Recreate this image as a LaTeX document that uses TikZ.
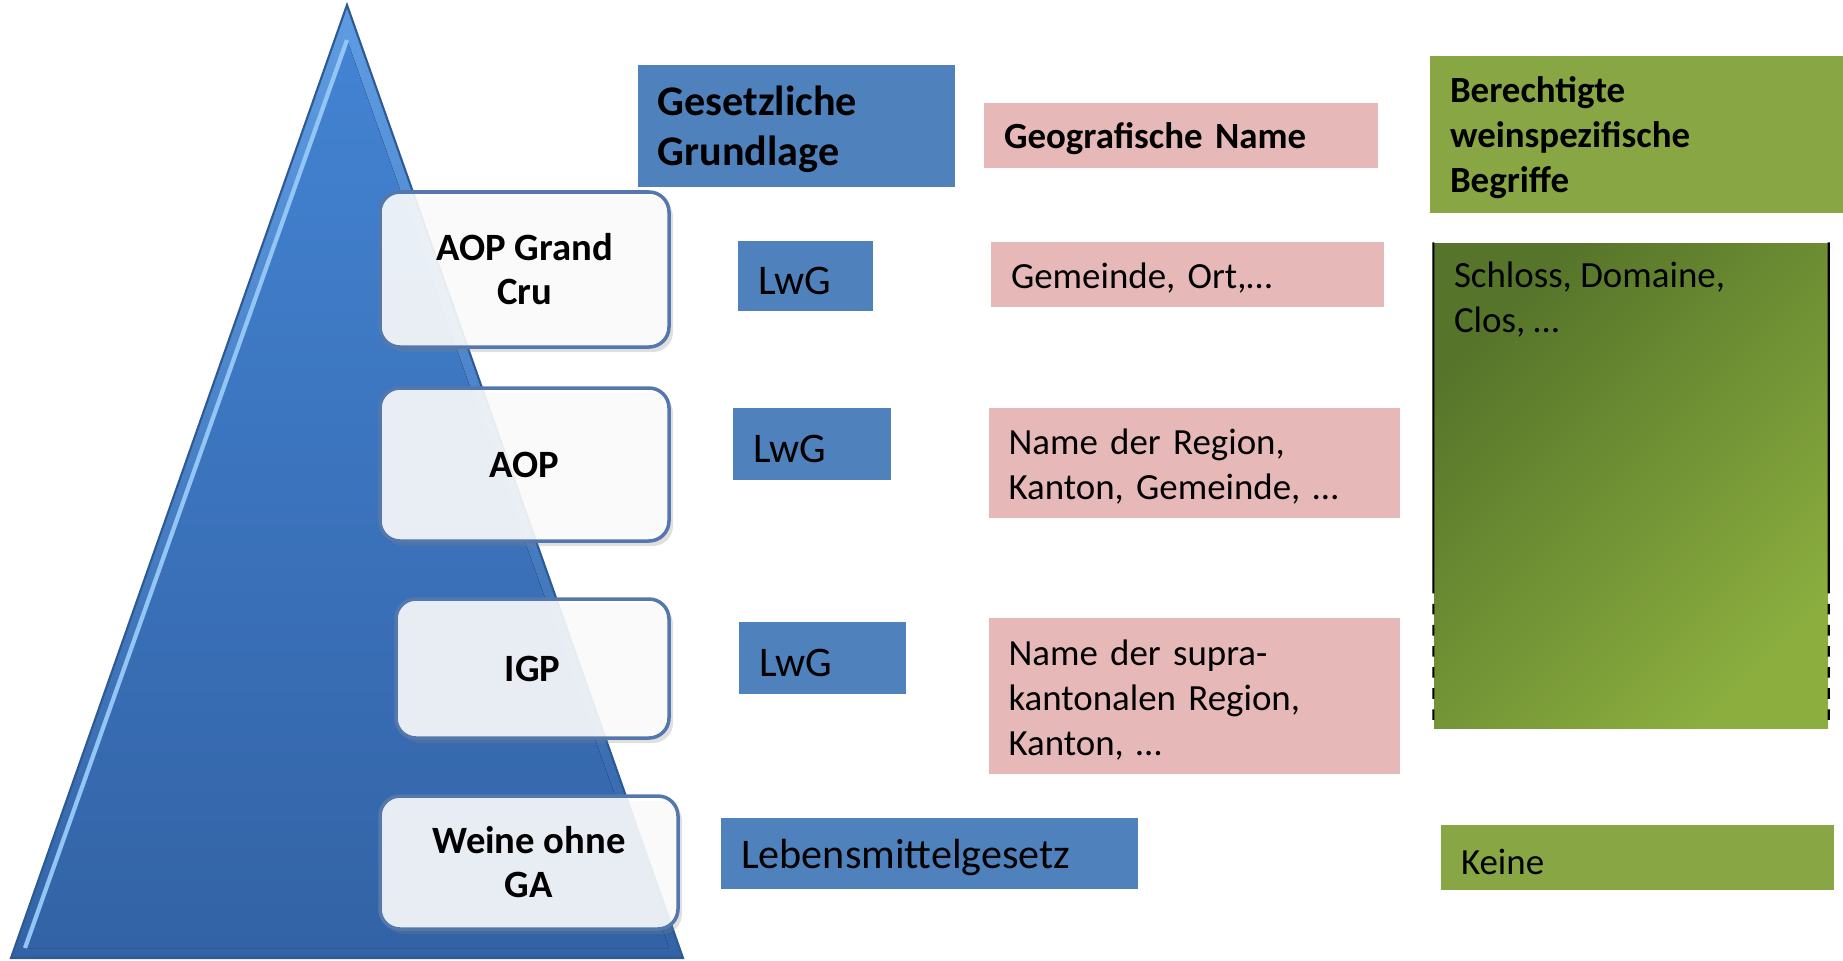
\documentclass[tikz,border=0pt]{standalone}
\usepackage{fontspec}
\setmainfont{Carlito}
\usepackage{tikz}
\usetikzlibrary{shadows,calc}
\usepackage{xcolor}

\definecolor{lawblue}{HTML}{4F81BD}
\definecolor{geopink}{HTML}{E6B9B8}
\definecolor{winegreen}{HTML}{88A644}
\definecolor{winedark}{HTML}{56742A}
\definecolor{winelight}{HTML}{8BAE3F}
\definecolor{pyrtop}{HTML}{4383D2}
\definecolor{pyrbot}{HTML}{3363A6}
\definecolor{pyrbevel}{HTML}{5E9CE2}
\definecolor{pyredge}{HTML}{2D5A94}
\definecolor{pyrlight}{HTML}{93C6F4}
\definecolor{levelborder}{HTML}{5478AE}

\begin{document}
\begin{tikzpicture}[
    level/.style={draw=levelborder, line width=1pt, rounded corners=0.2cm, fill=white, fill opacity=0.88, text opacity=1, inner sep=0pt, align=center, font=\fontsize{11}{12.5}\selectfont\bfseries, drop shadow={opacity=0.25, shadow xshift=0.04cm, shadow yshift=-0.05cm}},
    box/.style={inner xsep=0.2cm, inner ysep=0pt, align=left, execute at begin node={\rule{0pt}{0.9em}}},
    law/.style={box, fill=lawblue, font=\fontsize{12}{14.2}\selectfont},
    geo/.style={box, fill=geopink, font=\fontsize{10.5}{12.8}\selectfont},
    wine/.style={box, fill=winegreen, font=\fontsize{10.5}{12.8}\selectfont}
  ]
  \useasboundingbox (0,0) rectangle (18.43,9.60);

  % Pyramid
  \shadedraw[draw=pyredge, line width=0.6pt, top color=pyrbevel, bottom color=pyrbot] (0.11,0.02) -- (3.47,9.55) -- (6.83,0.02) -- cycle;
  \fill[top color=pyrtop, bottom color=pyrbot] (0.25,0.12) -- (3.47,9.2) -- (6.69,0.12) -- cycle;
  \draw[pyrlight, line width=1.2pt] (0.25,0.12) -- (3.47,9.2);

  % Levels
  \node[level, minimum width=2.89cm, minimum height=1.55cm] (grandcru) at (5.245, 6.905) {AOP Grand\\Cru};
  \node[level, minimum width=2.89cm, minimum height=1.53cm] (aop) at (5.245, 4.955) {AOP};
  \node[level, minimum width=2.73cm, minimum height=1.39cm] (igp) at (5.325, 2.915) {IGP};
  \node[level, minimum width=2.98cm, minimum height=1.33cm] (ohnega) at (5.29, 0.975) {Weine ohne\\GA};

  % Headings
  \node[law, font=\fontsize{12}{14.2}\selectfont\bfseries, text width=2.77cm, minimum height=1.22cm] (lawhead) at (7.96, 8.345) {Gesetzliche\\Grundlage};
  \node[geo, font=\fontsize{10.5}{12.8}\selectfont\bfseries, text width=3.54cm, minimum height=0.65cm] (geohead) at (11.81, 8.25) {Geografische Name};
  \node[wine, font=\fontsize{10.5}{12.8}\selectfont\bfseries, text width=3.73cm, minimum height=1.57cm] (winehead) at (16.365, 8.255) {Berechtigte\\weinspezifische\\Begriffe};

  % Legal basis
  \node[law, text width=0.95cm, minimum height=0.70cm] (lawgc) at (8.055, 6.84) {LwG};
  \node[law, text width=1.18cm, minimum height=0.72cm] (lawaop) at (8.12, 5.16) {LwG};
  \node[law, text width=1.27cm, minimum height=0.72cm] (lawigp) at (8.225, 3.02) {LwG};
  \node[law, text width=3.77cm, minimum height=0.71cm] (lawga) at (9.295, 1.065) {Lebensmittelgesetz};

  % Geographic names
  \node[geo, text width=3.53cm, minimum height=0.65cm] (geogc) at (11.875, 6.855) {Gemeinde, Ort,…};
  \node[geo, text width=3.71cm, minimum height=1.10cm] (geoaop) at (11.94, 4.97) {Name der Region,\\Kanton, Gemeinde, …};
  \node[geo, text width=3.71cm, minimum height=1.56cm] (geoigp) at (11.94, 2.64) {Name der supra-\\kantonalen Region,\\Kanton, …};

  % Wine terms
  \node[top color=winedark, bottom color=winelight, shading angle=45, minimum width=3.94cm, minimum height=4.85cm, inner sep=0pt] (terms) at (16.31, 4.745) {};
  \node[anchor=north west, inner sep=0pt, align=left, font=\fontsize{10.5}{12.8}\selectfont] (termtext) at ($(terms.north west)+(0.2,-0.19)$) {Schloss, Domaine,\\Clos, …};
  \draw[line width=0.6pt] (terms.north west) -- ($(terms.north west)!0.7!(terms.south west)$);
  \draw[line width=0.6pt, dashed] ($(terms.north west)!0.7!(terms.south west)$) -- (terms.south west);
  \draw[line width=0.6pt] (terms.north east) -- ($(terms.north east)!0.7!(terms.south east)$);
  \draw[line width=0.6pt, dashed] ($(terms.north east)!0.7!(terms.south east)$) -- (terms.south east);
  \node[wine, text width=3.53cm, minimum height=0.65cm] (winega) at (16.375, 1.025) {Keine};
\end{tikzpicture}
\end{document}
